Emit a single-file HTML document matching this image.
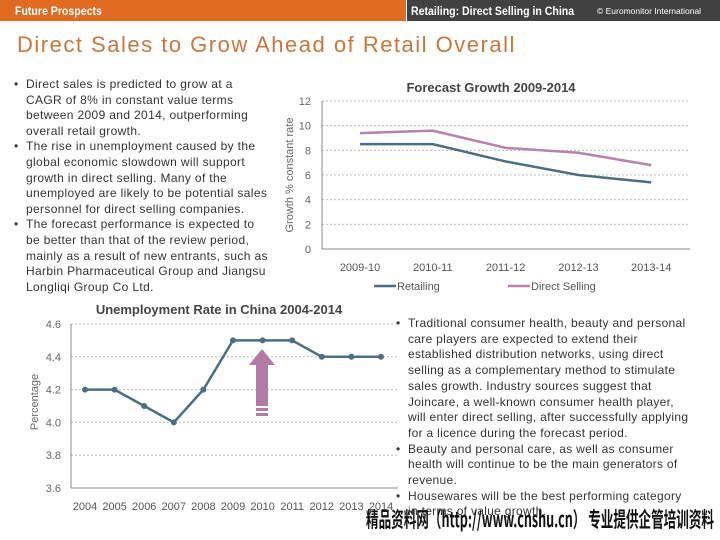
<!DOCTYPE html>
<html><head><meta charset="utf-8"><style>
body{margin:0;width:720px;height:540px;overflow:hidden;background:#fff;font-family:"Liberation Sans","Noto Sans CJK SC",sans-serif;position:relative}
.abs{position:absolute}
ul{margin:0;padding:0;list-style:none;white-space:nowrap}
li{position:relative;padding-left:14px}
li:before{content:"•";position:absolute;left:2px}
</style></head><body>
<div class="abs" style="left:0;top:0;width:406px;height:21px;background:#e06b20"></div>
<div class="abs" style="left:407px;top:0;width:313px;height:21px;background:#414141"></div>
<div class="abs" style="left:15px;top:4px;color:#fff;font-size:12px;font-weight:bold;transform:scaleX(0.88);transform-origin:left">Future Prospects</div>
<div class="abs" style="left:411px;top:4px;color:#fff;font-size:12px;font-weight:bold;transform:scaleX(0.88);transform-origin:left;white-space:nowrap">Retailing: Direct Selling in China</div>
<div class="abs" style="left:597px;top:6px;color:#fff;font-size:8.5px;white-space:nowrap">© Euromonitor International</div>
<div class="abs" style="left:17px;top:32px;color:#c8773c;font-size:22px;letter-spacing:1.5px;white-space:nowrap">Direct Sales to Grow Ahead of Retail Overall</div>
<ul class="abs" style="left:12px;top:77px;font-size:12px;line-height:15.6px;color:#333;letter-spacing:0.35px">
<li>Direct sales is predicted to grow at a<br>CAGR of 8% in constant value terms<br>between 2009 and 2014, outperforming<br>overall retail growth.</li>
<li>The rise in unemployment caused by the<br>global economic slowdown will support<br>growth in direct selling. Many of the<br>unemployed are likely to be potential sales<br>personnel for direct selling companies.</li>
<li>The forecast performance is expected to<br>be better than that of the review period,<br>mainly as a result of new entrants, such as<br>Harbin Pharmaceutical Group and Jiangsu<br>Longliqi Group Co Ltd.</li>
</ul>
<ul class="abs" style="left:394px;top:316px;font-size:12px;line-height:15.7px;color:#333;letter-spacing:0.3px">
<li>Traditional consumer health, beauty and personal<br>care players are expected to extend their<br>established distribution networks, using direct<br>selling as a complementary method to stimulate<br>sales growth. Industry sources suggest that<br>Joincare, a well-known consumer health player,<br>will enter direct selling, after successfully applying<br>for a licence during the forecast period.</li>
<li>Beauty and personal care, as well as consumer<br>health will continue to be the main generators of<br>revenue.</li>
<li>Housewares will be the best performing category<br>in terms of value growth.</li>
</ul>
<svg class="abs" style="left:0;top:0" width="720" height="540">
<g id="c1"></g>
<g id="c2"></g>
<text x="366" y="527" textLength="348" lengthAdjust="spacingAndGlyphs" font-size="21" font-weight="bold" fill="#111" font-family="WenQuanYi Zen Hei, Noto Sans CJK SC, sans-serif">精品资料网（http://www.cnshu.cn） 专业提供企管培训资料</text>
</svg>
<script>
const fcCats=["2009-10","2010-11","2011-12","2012-13","2013-14"];
const fcRetail=[8.5,8.5,7.1,6.0,5.4];
const fcDirect=[9.4,9.6,8.2,7.8,6.8];
const fcTicks=[0,2,4,6,8,10,12];
const unYears=["2004","2005","2006","2007","2008","2009","2010","2011","2012","2013","2014"];
const unRate=[4.2,4.2,4.1,4.0,4.2,4.5,4.5,4.5,4.4,4.4,4.4];
const unTicks=[3.6,3.8,4.0,4.2,4.4,4.6];
const NS="http://www.w3.org/2000/svg";
function mk(p,t,a,txt){const e=document.createElementNS(NS,t);for(const k in a)e.setAttribute(k,a[k]);if(txt!=null)e.textContent=txt;p.appendChild(e);return e;}
// chart 1
const g1=document.getElementById('c1');
const y1=v=>249-v*(148/12), x1=i=>360+i*72.8;
mk(g1,'text',{x:491,y:92,'text-anchor':'middle','font-size':13,'font-weight':'bold',fill:'#444','font-family':'Liberation Sans'},'Forecast Growth 2009-2014');
fcTicks.forEach(t=>{
 if(t>0){const l=mk(g1,'line',{x1:322,x2:690,y1:y1(t),y2:y1(t),stroke:'#bbb','stroke-dasharray':'2,2'});}
 const tx=mk(g1,'text',{x:311,y:y1(t)+4,'text-anchor':'end','font-size':11,fill:'#666','font-family':'Liberation Sans'},t);
 
});
mk(g1,'line',{x1:322,x2:322,y1:101,y2:249,stroke:'#888'});
mk(g1,'line',{x1:322,x2:690,y1:249,y2:249,stroke:'#888'});
mk(g1,'text',{transform:'translate(293,175) rotate(-90)','text-anchor':'middle','font-size':11,fill:'#666','font-family':'Liberation Sans'},'Growth % constant rate');
fcCats.forEach((c,i)=>{const t=mk(g1,'text',{x:x1(i),y:271,'text-anchor':'middle','font-size':11,fill:'#555','font-family':'Liberation Sans'},c);});
[[fcRetail,'#4b6f80','retailing-line'],[fcDirect,'#b583ab','direct-selling-line']].forEach(([d,c,n])=>{
 const p=mk(g1,'polyline',{points:d.map((v,i)=>x1(i)+','+y1(v)).join(' '),fill:'none',stroke:c,'stroke-width':2.5});
 
});
mk(g1,'line',{x1:374,x2:396,y1:286,y2:286,stroke:'#4b6f80','stroke-width':2.5});
mk(g1,'text',{x:397,y:290,'font-size':11,fill:'#555','font-family':'Liberation Sans'},'Retailing');
mk(g1,'line',{x1:508,x2:530,y1:286,y2:286,stroke:'#b583ab','stroke-width':2.5});
mk(g1,'text',{x:531,y:290,'font-size':11,fill:'#555','font-family':'Liberation Sans'},'Direct Selling');
// chart 2
const g2=document.getElementById('c2');
const y2=v=>488-(v-3.6)*164, x2=i=>85+i*29.6;
mk(g2,'text',{x:219,y:314,'text-anchor':'middle','font-size':13,'font-weight':'bold',fill:'#444','font-family':'Liberation Sans'},'Unemployment Rate in China 2004-2014');
unTicks.forEach(t=>{
 if(t>3.6){const l=mk(g2,'line',{x1:71,x2:398,y1:y2(t),y2:y2(t),stroke:'#bbb','stroke-dasharray':'2,2'});}
 const tx=mk(g2,'text',{x:61,y:y2(t)+4,'text-anchor':'end','font-size':11,fill:'#666','font-family':'Liberation Sans'},t.toFixed(1));
 
});
mk(g2,'line',{x1:71,x2:71,y1:324,y2:488,stroke:'#888'});
mk(g2,'line',{x1:71,x2:398,y1:488,y2:488,stroke:'#888'});
mk(g2,'text',{transform:'translate(38,402) rotate(-90)','text-anchor':'middle','font-size':11,fill:'#666','font-family':'Liberation Sans'},'Percentage');
unYears.forEach((c,i)=>{const t=mk(g2,'text',{x:x2(i),y:510,'text-anchor':'middle','font-size':11,fill:'#555','font-family':'Liberation Sans'},c);});
const pl=mk(g2,'polyline',{points:unRate.map((v,i)=>x2(i)+','+y2(v)).join(' '),fill:'none',stroke:'#4b6f80','stroke-width':2.5});

unRate.forEach((v,i)=>{const c=mk(g2,'circle',{cx:x2(i),cy:y2(v),r:3,fill:'#4b6f80'});});
const ar=mk(g2,'g',{});

mk(ar,'polygon',{points:'249,365 262,349 275,365 268,365 268,406 256,406 256,365',fill:'#b27aa5'});
mk(ar,'rect',{x:256,y:408,width:12,height:3,fill:'#b27aa5'});
mk(ar,'rect',{x:256,y:413,width:12,height:3,fill:'#b27aa5'});
</script>
</body></html>
